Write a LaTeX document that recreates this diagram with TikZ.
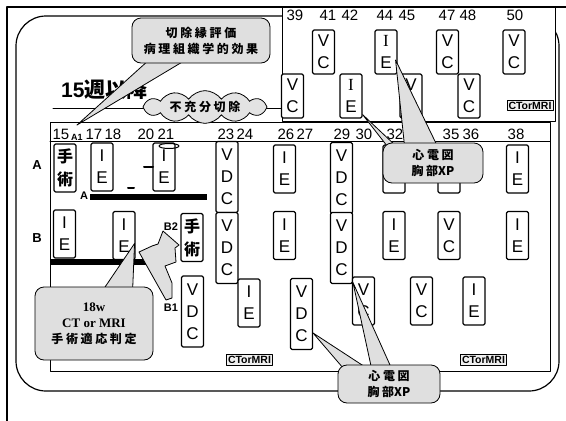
\documentclass[tikz,border=0pt]{standalone}
\usepackage{fontspec}
\setmainfont{Liberation Sans}
\newfontfamily\jpf{Noto Sans CJK JP}
\newfontfamily\jpw[LetterSpace=22]{Noto Sans CJK JP}
\newfontfamily\serf{Liberation Serif}
\usetikzlibrary{calc,shapes.symbols}
\pgfdeclarelayer{front}
\pgfsetlayers{main,front}
\tikzset{
  wk/.style={draw, line width=1.1pt, rounded corners=1.5pt, fill=white, minimum width=22pt,
    inner sep=0pt, align=center, font=\fontsize{17}{22}\selectfont},
  up/.style={wk, minimum height=44pt},
  two/.style={wk, minimum height=48pt},
  three/.style={wk, minimum height=71pt},
  op/.style={two, font=\jpf\bfseries\fontsize{16}{23}\selectfont},
  num/.style={inner sep=0pt, font=\fontsize{15}{15}\selectfont},
  tag/.style={inner sep=0pt, font=\bfseries\fontsize{11}{11}\selectfont},
  ctm/.style={draw, line width=0.8pt, fill=gray!12, inner sep=1.5pt,
    font=\bfseries\fontsize{10.5}{10.5}\selectfont},
  bubble/.style={draw, line width=0.8pt, fill=gray!25, rounded corners=9pt, align=center,
    inner sep=0pt, font=\jpw\bfseries\fontsize{12}{16}\selectfont},
  tail/.style={draw, line width=0.8pt, fill=gray!25},
  bar/.style={line width=6pt, line cap=butt}
}
\begin{document}
\begin{tikzpicture}[x=1pt, y=-1pt, line join=round, line cap=round]
\useasboundingbox (0,0) rectangle (566,421);
% frames
\draw[line width=1.2] (7,421) -- (7,7) -- (566,7);
\draw[line width=1.2, rounded corners=30] (16,16) rectangle (559,391);
\draw[line width=1, fill=white] (282,7) rectangle (555,121);
\draw[line width=1, fill=white] (50,122) rectangle (550,371);
\draw[line width=1] (50,141) -- (550,141);

% title
\node[anchor=base west, inner sep=0pt] (title) at (61,97)
  {\bfseries\fontsize{21}{21}\selectfont 15{\jpf 週以降}};
\draw[line width=1] (53,108) -- (282,108);

% week numbers
\foreach \n/\x in {39/295,41/328,42/350,44/385,45/407,47/447,48/468,50/515}
  \node[num] (t\n) at (\x,15) {\n};
\foreach \n/\x in {15/61,17/94,18/113,20/146,21/166,23/226,24/245,26/286,27/305,
    29/342,30/364,32/395,33/415,35/451,36/471,38/516}
  \node[num] (n\n) at (\x,134) {\n};
\node[tag, font=\bfseries\fontsize{9}{9}\selectfont] (a1) at (77,137) {A1};

% upper panel
\node[up] (u41) at (323.5,52) {V\\C};
\node[up] (u44) at (386,52) {{\serf I}\\E};
\node[up] (u47) at (447.5,52) {V\\C};
\node[up] (u50) at (514,52) {V\\C};
\node[up] (u39) at (292.5,96) {V\\C};
\node[up] (u42) at (351,96) {{\serf I}\\E};
\node[up] (u45) at (411,96) {V\\C};
\node[up] (u48) at (469,96) {V\\C};
\node[ctm] (ctU) at (530,105.5) {CTorMRI};

% row labels
\node[tag, font=\bfseries\fontsize{13}{13}\selectfont] (rowA) at (37,165) {A};
\node[tag, font=\bfseries\fontsize{13}{13}\selectfont] (rowB) at (37,238) {B};

% row A
\node[op] (a15) at (65,168) {手\\術};
\node[two] (a17) at (102,167) {I\\E};
\node[two] (a20) at (164,167) {I\\E};
\node[three] (a23) at (227,177) {V\\D\\C};
\node[two] (a26) at (284.5,169) {I\\E};
\node[three] (a29) at (341.5,178) {V\\D\\C};
\node[two] (a32) at (394,169) {};
\node[two] (a35) at (449,169) {};
\node[two] (a38) at (517.5,169) {I\\E};
\draw[line width=1] (169,146) ellipse (10 and 2.5);
\draw[line width=2] (144,167) -- (153,167);
\draw[line width=2] (128,188) -- (134,188);
\draw[bar] (90,197) -- (207,197);
\node[tag] (barA) at (84,196) {A};

% row B
\node[two] (b15) at (64.5,234) {I\\E};
\node[two] (b18) at (124,235.5) {I\\E};
\node[op] (b21) at (192,237.5) {手\\術};
\node[three] (b23) at (227,248) {V\\D\\C};
\node[two] (b26) at (284.5,235.5) {I\\E};
\node[three] (b29) at (341.5,248) {V\\D\\C};
\node[two] (b32) at (394,235.5) {I\\E};
\node[two] (b35) at (449,235.5) {V\\C};
\node[two] (b38) at (517.5,235.5) {I\\E};
\draw[bar] (50,262) -- (166,262);
\node[tag] (B2) at (171,227) {B2};
\node[tag] (B1) at (171,308) {B1};

% row C
\node[three] (c21) at (192.5,311.5) {V\\D\\C};
\node[two] (c24) at (249,303) {I\\E};
\node[three] (c27) at (301.5,314) {V\\D\\C};
\node[two] (c30) at (363.5,301) {V\\C};
\node[two] (c33) at (421.5,301) {V\\C};
\node[two] (c36) at (474,301) {I\\E};
\node[ctm] (ctA) at (249.5,360) {CTorMRI};
\node[ctm] (ctB) at (483.5,360) {CTorMRI};

% B1 -> B2 arrow
\draw[tail] (166,300) -- (139,252) -- (152,246) -- (158,244) -- (163,231) -- (179,245)
  -- (175,248) -- (176,262) -- (165,266) -- (172,283) -- (172,298) -- cycle;

% callouts
\begin{pgfonlayer}{front}
\node[bubble, minimum width=138pt, minimum height=45pt] (cut) at (201,40.5)
  {切除縁評価\\病理組織学的効果};
\node[cloud, cloud puffs=12, cloud puff arc=110, aspect=5, draw, line width=0.8pt,
  fill=gray!22, inner sep=0pt, minimum width=124pt, minimum height=22pt,
  font=\jpw\bfseries\fontsize{12}{12}\selectfont] (cloud) at (205,107) {不充分切除};
\node[bubble, minimum width=118pt, minimum height=73pt] (judge) at (94,323.5)
  {{\serf\bfseries\fontsize{13}{15.5}\selectfont 18w}\\
   {\serf\bfseries\fontsize{13}{15.5}\selectfont CT or MRI}\\手術適応判定};
\node[bubble, minimum width=100pt, minimum height=40pt] (ecgA) at (433,163)
  {心電図\\胸部{\jpf XP}};
\node[bubble, minimum width=102pt, minimum height=38pt] (ecgB) at (389,384)
  {心電図\\胸部{\jpf XP}};
\end{pgfonlayer}

% callout tails
\coordinate (cutTip) at (77,125);
\draw[tail] ($(cut.south west)+(18,-4)$) -- (cutTip) -- ($(cut.south west)+(55,-4)$);
\draw[tail] ($(judge.north west)+(68,4)$) -- ($(b18.east)+(-1,8)$) -- ($(judge.north west)+(98,4)$);
\draw[tail] ($(ecgA.north west)+(22,4)$) -- ($(u44.east)+(-2,8)$) -- ($(ecgA.north west)+(55,4)$);
\draw[tail] ($(ecgA.north west)+(5,4)$) -- ($(u42.south east)+(0,-4)$) -- ($(ecgA.north west)+(14,4)$);
\draw[tail] ($(ecgB.north west)+(6,4)$) -- ($(c27.east)+(0,19)$) -- ($(ecgB.north west)+(30,4)$);
\draw[tail] ($(ecgB.north west)+(34,4)$) -- ($(c30.north west)+(1,6)$) -- ($(ecgB.north west)+(54,4)$);
\end{tikzpicture}
\end{document}
